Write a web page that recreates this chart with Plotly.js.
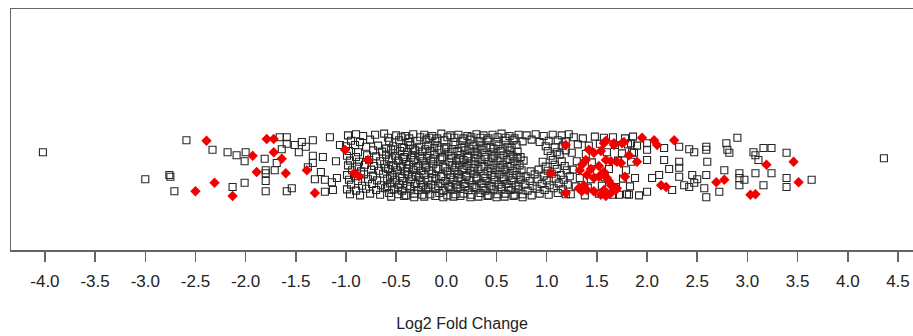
<!DOCTYPE html>
<html>
<head>
<meta charset="utf-8">
<script src="https://cdn.plot.ly/plotly-3.0.1.min.js"></script>
<style>
html,body{margin:0;padding:0;background:#fff;}
#chart{width:913px;height:336px;}
</style>
</head>
<body>
<div id="chart"></div>
<script>
// Non-significant genes (open squares): log2 fold change and vertical jitter
var leftLog2FC = [-4.02,-3.00,-2.76,-2.75,-2.71,-2.59,-2.33,-2.18,-2.09,-2.00,-2.01,-2.13,-2.01,-1.81,-1.80,-1.80,-1.80,-1.80,-1.71,-1.69,-1.66,-1.64,-1.59,-1.59,-1.51,-1.47,-1.44,-1.33,-1.33,-1.33,-1.31,-1.59,-1.54,-1.40,-1.16,-1.23,-1.21,-1.14,-1.09,-1.13,-1.21,-1.38,-1.25,-1.06,-1.10];
var leftJitter  = [7.3,2.8,3.5,3.2,0.8,9.3,7.7,7.3,6.8,7.3,5.8,1.5,2.2,6.2,4.3,3.8,2.5,0.8,4.3,5.5,9.8,7.8,9.8,8.7,8.5,7.3,9.0,9.3,6.7,5.5,2.8,0.8,1.3,8.2,9.8,6.5,2.7,2.3,3.0,1.0,0.7,4.8,4.0,8.5,5.8];

var midRowsLog2FC = [
  [-0.98,-0.90,-0.83,-0.71,-0.62,-0.50,-0.41,-0.33,-0.22,-0.14,-0.05,0.04,0.12,0.21,0.30,0.37,0.46,0.55,0.63,0.72,0.80,0.89,0.97,1.06,1.15,1.22],
  [-0.95,-0.86,-0.76,-0.57,-0.47,-0.38,-0.29,-0.20,-0.11,-0.02,0.07,0.16,0.24,0.33,0.41,0.50,0.59,0.67,0.76,0.85,0.93,1.02,1.11,1.19],
  [-1.00,-0.91,-0.80,-0.68,-0.53,-0.44,-0.36,-0.27,-0.18,-0.09,0.00,0.09,0.18,0.27,0.35,0.44,0.52,0.61,0.70,0.99,1.08,1.16],
  [-0.97,-0.88,-0.73,-0.64,-0.55,-0.46,-0.39,-0.31,-0.24,-0.16,-0.07,0.02,0.11,0.19,0.28,0.36,0.45,0.54,0.63,0.71,1.01,1.10,1.19],
  [-0.99,-0.90,-0.79,-0.70,-0.60,-0.51,-0.42,-0.34,-0.26,-0.19,-0.12,-0.04,0.05,0.14,0.22,0.31,0.39,0.48,0.57,0.66,0.74,1.04,1.13],
  [-0.96,-0.87,-0.77,-0.66,-0.57,-0.48,-0.40,-0.32,-0.23,-0.15,-0.06,0.03,0.10,0.17,0.25,0.34,0.42,0.51,0.60,0.68,0.77,0.96,1.06,1.15],
  [-0.98,-0.89,-0.81,-0.72,-0.62,-0.53,-0.45,-0.37,-0.28,-0.21,-0.13,-0.03,0.06,0.13,0.21,0.29,0.38,0.47,0.56,0.64,0.73,0.99,1.08,1.18],
  [-0.94,-0.85,-0.75,-0.67,-0.58,-0.49,-0.41,-0.33,-0.25,-0.17,-0.08,0.01,0.08,0.16,0.24,0.32,0.41,0.49,0.58,0.66,0.75,0.84,0.92,1.01,1.10,1.20],
  [-0.99,-0.91,-0.82,-0.73,-0.63,-0.54,-0.46,-0.38,-0.30,-0.22,-0.14,-0.05,0.04,0.12,0.20,0.28,0.37,0.45,0.53,0.62,0.70,0.79,0.88,0.97,1.05,1.14,1.23],
  [-0.97,-0.88,-0.78,-0.69,-0.59,-0.51,-0.43,-0.35,-0.26,-0.18,-0.10,-0.01,0.07,0.15,0.23,0.31,0.40,0.48,0.57,0.65,0.74,0.83,0.91,1.00,1.09,1.17],
  [-0.95,-0.84,-0.74,-0.65,-0.56,-0.47,-0.39,-0.31,-0.23,-0.15,-0.06,0.02,0.10,0.18,0.26,0.35,0.43,0.52,0.60,0.69,0.78,0.86,0.95,1.03,1.12,1.21],
  [-0.99,-0.90,-0.80,-0.70,-0.61,-0.52,-0.44,-0.36,-0.28,-0.20,-0.11,-0.03,0.05,0.14,0.22,0.30,0.39,0.47,0.55,0.64,0.72,0.81,0.90,0.98,1.07,1.16],
  [-0.96,-0.86,-0.76,-0.66,-0.57,-0.48,-0.40,-0.32,-0.24,-0.16,-0.07,0.01,0.09,0.17,0.25,0.34,0.42,0.51,0.59,0.68,0.76,0.85,0.93,1.02,1.11,1.19]
];
var midRowsJitter = [
  [10.1,10.3,10.0,10.2,10.4,10.1,10.0,10.3,10.2,10.0,10.4,10.1,10.2,10.0,10.3,10.1,10.2,10.4,10.0,10.2,10.1,10.3,10.0,10.2,10.1,10.3],
  [9.2,9.0,9.4,9.1,9.3,9.0,9.2,9.4,9.1,9.3,9.0,9.2,9.4,9.1,9.3,9.0,9.2,9.3,9.1,9.4,9.0,9.2,9.3,9.1],
  [8.3,8.5,8.2,8.4,8.3,8.1,8.5,8.2,8.4,8.3,8.1,8.5,8.2,8.4,8.3,8.1,8.4,8.2,8.5,8.3,8.1,8.4],
  [7.5,7.3,7.6,7.4,7.7,7.5,7.3,7.6,7.4,7.5,7.7,7.3,7.5,7.6,7.4,7.7,7.3,7.5,7.6,7.4,7.5,7.3,7.6],
  [6.7,6.5,6.8,6.6,6.9,6.7,6.5,6.8,6.6,6.7,6.9,6.5,6.7,6.8,6.6,6.9,6.5,6.7,6.8,6.6,6.5,6.7,6.9],
  [5.9,5.7,6.0,5.8,6.1,5.9,5.7,6.0,5.8,5.9,6.1,5.7,5.9,6.0,5.8,6.1,5.7,5.9,6.0,5.8,5.9,5.7,6.0,5.8],
  [5.1,4.9,5.2,5.0,5.3,5.1,4.9,5.2,5.0,5.1,5.3,4.9,5.1,5.2,5.0,5.3,4.9,5.1,5.2,5.0,5.1,4.9,5.2,5.0],
  [4.3,4.1,4.4,4.2,4.5,4.3,4.1,4.4,4.2,4.3,4.5,4.1,4.3,4.4,4.2,4.5,4.1,4.3,4.4,4.2,4.3,4.1,4.4,4.2,4.5,4.3],
  [3.5,3.3,3.6,3.4,3.7,3.5,3.3,3.6,3.4,3.5,3.7,3.3,3.5,3.6,3.4,3.7,3.3,3.5,3.6,3.4,3.5,3.3,3.6,3.4,3.7,3.5,3.3],
  [2.7,2.5,2.8,2.6,2.9,2.7,2.5,2.8,2.6,2.7,2.9,2.5,2.7,2.8,2.6,2.9,2.5,2.7,2.8,2.6,2.7,2.5,2.8,2.6,2.9,2.7],
  [1.9,1.7,2.0,1.8,2.1,1.9,1.7,2.0,1.8,1.9,2.1,1.7,1.9,2.0,1.8,2.1,1.7,1.9,2.0,1.8,1.9,1.7,2.0,1.8,2.1,1.9],
  [1.1,0.9,1.2,1.0,1.3,1.1,0.9,1.2,1.0,1.1,1.3,0.9,1.1,1.2,1.0,1.3,0.9,1.1,1.2,1.0,1.1,0.9,1.2,1.0,1.3,1.1],
  [0.3,0.1,0.4,0.2,0.5,0.3,0.1,0.4,0.2,0.3,0.5,0.1,0.3,0.4,0.2,0.5,0.1,0.3,0.4,0.2,0.3,0.1,0.4,0.2,0.5,0.3]
];

// extra genes in the densest core of the distribution
var coreRowsLog2FC = [
  [-0.58,-0.45,-0.37,-0.26,-0.17,-0.09,0.01,0.08,0.17,0.25,0.34,0.42,0.51,0.59,0.68],
  [-0.60,-0.51,-0.42,-0.33,-0.21,-0.12,-0.02,0.06,0.15,0.23,0.31,0.40,0.47,0.56,0.65],
  [-0.54,-0.43,-0.35,-0.24,-0.13,-0.04,0.05,0.13,0.21,0.29,0.38,0.46,0.54,0.63,0.71],
  [-0.61,-0.50,-0.39,-0.30,-0.20,-0.10,-0.01,0.09,0.18,0.27,0.35,0.44,0.53,0.61,0.70],
  [-0.56,-0.44,-0.34,-0.27,-0.14,-0.05,0.04,0.12,0.20,0.30,0.39,0.48,0.57,0.66,0.74],
  [-0.59,-0.48,-0.36,-0.25,-0.18,-0.08,0.03,0.11,0.19,0.28,0.37,0.45,0.55,0.62,0.72],
  [-0.55,-0.42,-0.32,-0.22,-0.11,-0.03,0.07,0.14,0.24,0.32,0.41,0.50,0.58,0.67,0.76]
];
var coreRowsJitter = [
  [9.7,9.8,9.6,9.8,9.7,9.6,9.8,9.7,9.6,9.8,9.7,9.6,9.8,9.7,9.6],
  [7.9,7.8,8.0,7.9,7.8,8.0,7.9,7.8,8.0,7.9,7.8,8.0,7.9,7.8,8.0],
  [6.3,6.2,6.4,6.3,6.2,6.4,6.3,6.2,6.4,6.3,6.2,6.4,6.3,6.2,6.4],
  [4.7,4.8,4.6,4.7,4.8,4.6,4.7,4.8,4.6,4.7,4.8,4.6,4.7,4.8,4.6],
  [3.1,3.0,3.2,3.1,3.0,3.2,3.1,3.0,3.2,3.1,3.0,3.2,3.1,3.0,3.2],
  [1.5,1.4,1.6,1.5,1.4,1.6,1.5,1.4,1.6,1.5,1.4,1.6,1.5,1.4,1.6],
  [-0.1,0.0,-0.2,-0.1,0.0,-0.2,-0.1,0.0,-0.2,-0.1,0.0,-0.2,-0.1,0.0,-0.2]
];

var upLog2FC = [1.27,1.36,1.48,1.57,1.66,1.78,1.86,1.31,1.42,1.53,1.68,1.81,1.90,1.25,1.39,1.60,1.75,1.87,1.30,1.45,1.71,1.84,1.26,1.50,1.62,1.79,1.33,1.44,1.58,1.76,1.88,1.29,1.41,1.55,1.69,1.83,1.24,1.38,1.52,1.66,1.80,1.92];
var upJitter  = [9.8,9.6,9.9,9.7,9.8,9.6,9.9,8.6,8.4,8.7,8.5,8.6,8.4,7.2,7.0,7.3,7.1,7.2,5.8,5.6,5.9,5.7,4.4,4.2,4.5,4.3,3.0,2.8,3.1,2.9,3.0,1.6,1.4,1.7,1.5,1.6,0.3,0.1,0.4,0.2,0.3,0.1];

var rightLog2FC = [1.84,1.85,2.00,2.00,2.00,2.17,2.17,2.32,2.32,2.32,2.32,2.42,2.47,2.45,2.47,2.42,2.59,2.59,2.60,2.59,2.57,2.59,2.72,2.79,2.80,2.82,2.77,2.90,2.92,2.92,2.92,2.97,3.06,3.08,3.16,3.24,3.11,3.08,3.24,3.16,3.39,3.39,3.39,3.64,4.36,2.00,2.25,2.37,2.12,1.82,1.72,2.05,2.22,2.50];
var rightJitter  = [8.8,7.3,8.8,7.7,6.0,8.0,6.0,8.2,5.7,4.7,3.2,7.8,7.3,3.5,2.2,1.5,8.2,7.7,5.7,3.5,1.3,-0.2,0.7,8.8,7.7,7.2,4.3,9.7,3.8,3.0,1.8,2.7,7.3,6.8,8.0,8.0,6.0,3.8,3.8,1.8,7.2,3.0,1.5,2.7,6.3,0.7,1.0,1.8,3.5,0.2,0.2,3.0,4.5,2.8];

// Significant genes (red diamonds)
var sigDownLog2FC = [-2.39,-2.50,-2.31,-2.13,-1.93,-1.79,-1.72,-1.72,-1.64,-1.39,-1.89,-1.60,-1.31,-1.01,-0.78,-0.92,-0.87];
var sigDownJitter = [9.2,0.8,2.2,0.0,6.7,9.5,9.5,7.3,6.2,4.3,4.0,3.8,0.5,7.7,6.0,3.8,3.3];
var sigUpLog2FC = [1.19,1.04,1.19,1.57,1.67,1.77,1.95,2.07,2.10,2.27,1.59,1.70,1.90,1.52,1.60,1.65,1.57,1.69,2.14,2.19,2.69,2.77,3.03,3.08,3.19,3.46,3.51,
                   1.59,1.67,1.75,1.47,1.54,1.39,1.35,1.64,1.74,1.40,1.47,1.54,1.64,1.37,1.40,1.47,1.54,1.59,1.64,1.70,1.35,1.32,
                   1.42,1.33,1.82,1.52,1.44,1.57,1.78,1.62];
var sigUpJitter = [8.5,3.8,0.5,8.8,8.8,9.0,9.7,9.3,8.5,9.3,6.0,5.7,5.7,3.2,3.0,1.8,1.0,1.0,1.8,1.5,2.3,2.7,0.2,0.3,5.2,5.7,2.3,
                   9.2,8.5,8.8,7.2,7.5,6.0,5.2,5.8,5.5,3.5,3.0,3.5,1.8,1.8,1.0,0.8,0.2,0.0,0.5,1.3,0.8,1.3,
                   7.7,4.3,6.8,5.0,4.5,4.0,3.2,2.5];

var tickValues = [-4.0,-3.5,-3.0,-2.5,-2.0,-1.5,-1.0,-0.5,0.0,0.5,1.0,1.5,2.0,2.5,3.0,3.5,4.0,4.5];
var tickLabels = ["-4.0","-3.5","-3.0","-2.5","-2.0","-1.5","-1.0","-0.5","0.0","0.5","1.0","1.5","2.0","2.5","3.0","3.5","4.0","4.5"];

var flat = function(a){ return [].concat.apply([], a); };
var nsX = leftLog2FC.concat(flat(midRowsLog2FC), flat(coreRowsLog2FC), upLog2FC, rightLog2FC);
var nsY = leftJitter.concat(flat(midRowsJitter), flat(coreRowsJitter), upJitter, rightJitter);
var sX = sigDownLog2FC.concat(sigUpLog2FC);
var sY = sigDownJitter.concat(sigUpJitter);

var traces = [
  {x: nsX, y: nsY, type: 'scatter', mode: 'markers', hoverinfo: 'x',
   marker: {symbol: 'square-open', size: 7, color: '#262626', line: {width: 1.1, color: '#262626'}}},
  {x: sX, y: sY, type: 'scatter', mode: 'markers', hoverinfo: 'x',
   marker: {symbol: 'diamond', size: 8, color: '#f20000', line: {width: 0}}}
];

var layout = {
  width: 913, height: 336,
  margin: {l: 11, r: 0, t: 9, b: 86, pad: 0},
  paper_bgcolor: '#fff', plot_bgcolor: '#fff',
  showlegend: false,
  font: {family: 'Liberation Sans, Arial, sans-serif', color: '#222'},
  xaxis: {
    range: [-4.338, 4.65],
    tickmode: 'array', tickvals: tickValues, ticktext: tickLabels,
    ticks: 'outside', ticklen: 10, tickwidth: 1.5, tickcolor: '#666',
    tickfont: {size: 17, color: '#222'},
    ticklabelstandoff: 5,
    showline: true, mirror: true, linecolor: '#666', linewidth: 1.5,
    showgrid: false, zeroline: false,
    title: {text: 'Log2 Fold Change', font: {size: 16, color: '#222'}, standoff: 28}
  },
  yaxis: {
    range: [-9, 31.17],
    showticklabels: false, ticks: '',
    showline: true, mirror: true, linecolor: '#666', linewidth: 1.5,
    showgrid: false, zeroline: false
  }
};

Plotly.newPlot('chart', traces, layout, {displayModeBar: false, staticPlot: true});
</script>
</body>
</html>
